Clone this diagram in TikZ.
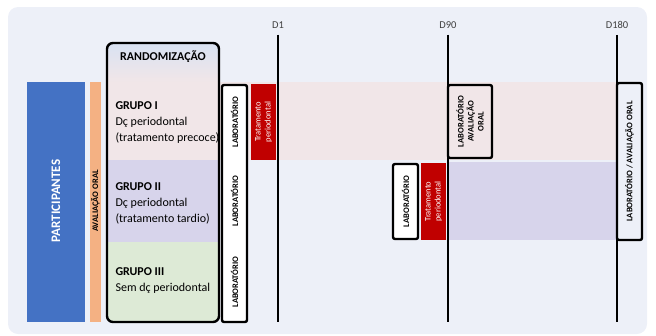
\documentclass[tikz,border=0pt]{standalone}
\usepackage{fontspec}
\setmainfont{Carlito}
\definecolor{fundo}{HTML}{EDF0F8}
\definecolor{azul}{HTML}{4472C4}
\definecolor{laranja}{HTML}{F4B183}
\definecolor{vermelho}{HTML}{C00000}
\definecolor{topo}{HTML}{D9E2F2}
\definecolor{grupoI}{HTML}{F1E6E8}
\definecolor{grupoII}{HTML}{D7D4EB}
\definecolor{grupoIII}{HTML}{DDEAD6}
\definecolor{cinza}{HTML}{404040}

\begin{document}
\begin{tikzpicture}[x=1pt,y=-1pt,
    caixa/.style={draw=black,line width=2.4pt,rounded corners=2pt},
    vert/.style={rotate=90,align=center,inner sep=0pt,font=\fontsize{8.5}{10}\selectfont\bfseries},
    trat/.style={vert,white,font=\fontsize{8.5}{10}\selectfont},
    dia/.style={text=cinza,font=\fontsize{10.5}{12}\selectfont,inner sep=6pt},
    grupo/.style={anchor=west,align=left,font=\fontsize{12}{16}\selectfont},
    linha/.style={line width=2pt}]
                    \useasboundingbox (0,0) rectangle (656,335);
                    \fill[fundo,rounded corners=10pt] (8,7) rectangle (647,334);
                    \fill[azul] (27,82) rectangle (85,322);
                    \fill[laranja] (90,82) rectangle (101,322);
                    \node[vert,white,font=\fontsize{13}{15}\selectfont\bfseries] (part) at (56,201) {PARTICIPANTES};
                    \node[vert] (aval) at (95.5,201) {AVALIAÇÃO ORAL};
                    \fill[grupoI] (219,82) rectangle (617,160);
                    \fill[grupoII] (448,162) rectangle (617,240);
                    \begin{scope}
                        \clip[rounded corners=6pt] (107,43) rectangle (219,322);
                        \shade[top color=topo,bottom color=grupoI] (107,43) rectangle (219,82);
                        \fill[grupoI] (107,82) rectangle (219,160);
                        \fill[grupoII] (107,160) rectangle (219,242);
                        \fill[grupoIII] (107,242) rectangle (219,322);
                    \end{scope}
                    \draw[line width=2.4pt,rounded corners=6pt] (107,43) rectangle (219,322);
                    \node[font=\fontsize{12}{14}\selectfont\bfseries] (rand) at (163,57) {RANDOMIZAÇÃO};
                    \node[grupo] (g1) at (112,123) {\textbf{GRUPO I}\\Dç periodontal\\(tratamento precoce)};
                    \node[grupo] (g2) at (112,203) {\textbf{GRUPO II}\\Dç periodontal\\(tratamento tardio)};
                    \node[grupo] (g3) at (112,280.5) {\textbf{GRUPO III}\\Sem dç periodontal};
                    \node[dia] (d1) at (278,25) {D1};
                    \node[dia] (d90) at (448,25) {D90};
                    \node[dia] (d180) at (617,25) {D180};
                    \coordinate (d1fim) at (278,322);
                    \coordinate (d90fim) at (448,322);
                    \coordinate (d180fim) at (617,322);
                    \draw[linha] (d1) -- (d1fim);
                    \draw[linha] (d90) -- (d90fim);
                    \draw[linha] (d180) -- (d180fim);
                    \draw[caixa,fill=white] (222,85) rectangle (247,322);
                    \node[vert] (lab1) at (234.5,122) {LABORATÓRIO};
                    \node[vert] (lab2) at (234.5,201) {LABORATÓRIO};
                    \node[vert] (lab3) at (234.5,282) {LABORATÓRIO};
                    \fill[vermelho] (251,84) rectangle (276,160);
                    \node[trat] (trat1) at (263.5,122) {Tratamento\\periodontal};
                    \draw[caixa,fill=white] (393,164) rectangle (418,239);
                    \node[vert] (lab4) at (405.5,201.5) {LABORATÓRIO};
                    \fill[vermelho] (421,163) rectangle (446,240);
                    \node[trat] (trat2) at (433.5,201.5) {Tratamento\\periodontal};
                    \draw[caixa,fill=grupoI] (448,85) rectangle (492,158);
                    \node[vert] (lab90) at (470,121.5) {LABORATÓRIO\\AVALIAÇÃO\\ORAL};
                    \draw[caixa,fill=fundo] (617,83) rectangle (642,240);
                    \node[vert] (lab180) at (629.5,161.5) {LABORATÓRIO / AVALIAÇÃO ORAL};
                \end{tikzpicture}
\end{document}
